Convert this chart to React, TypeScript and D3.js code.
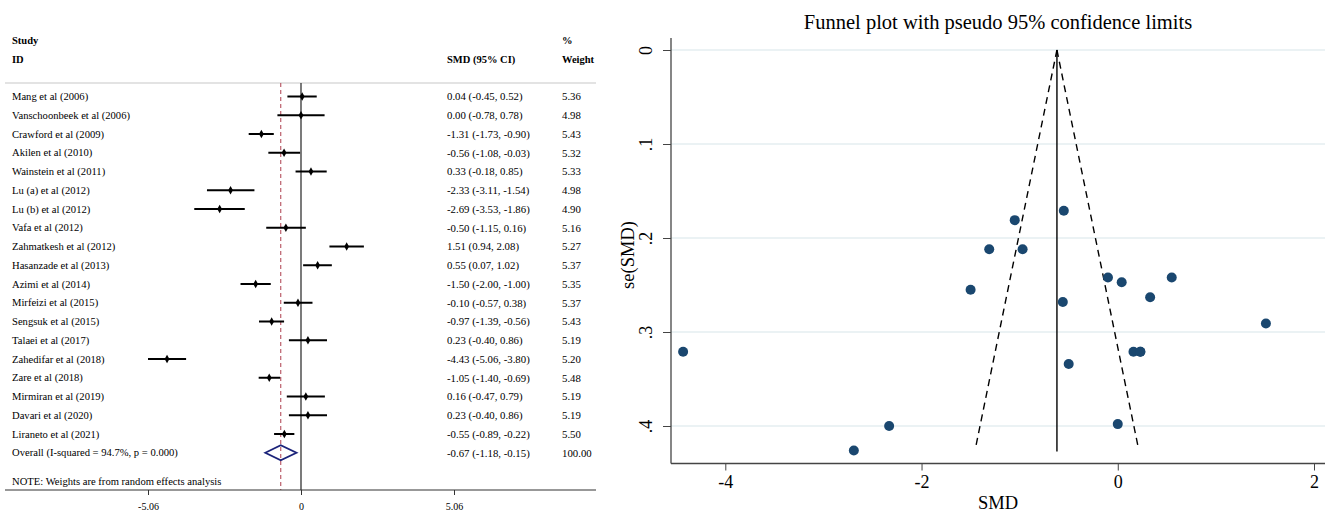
import React, { useEffect, useRef } from 'react';
import * as d3 from 'd3';

// forest plot rows
const studies = [
  'Mang et al (2006)', 'Vanschoonbeek et al (2006)', 'Crawford et al (2009)', 'Akilen et al (2010)',
  'Wainstein et al (2011)', 'Lu (a) et al (2012)', 'Lu (b) et al (2012)', 'Vafa et al (2012)',
  'Zahmatkesh et al (2012)', 'Hasanzade et al (2013)', 'Azimi et al (2014)', 'Mirfeizi et al  (2015)',
  'Sengsuk et al (2015)', 'Talaei et al (2017)', 'Zahedifar et al (2018)', 'Zare et al (2018)',
  'Mirmiran et al (2019)', 'Davari et al (2020)', 'Liraneto et al (2021)',
];
const smd = [0.04, 0.0, -1.31, -0.56, 0.33, -2.33, -2.69, -0.5, 1.51, 0.55, -1.5, -0.1, -0.97, 0.23, -4.43, -1.05, 0.16, 0.23, -0.55];
const ciLow = [-0.45, -0.78, -1.73, -1.08, -0.18, -3.11, -3.53, -1.15, 0.94, 0.07, -2.0, -0.57, -1.39, -0.4, -5.06, -1.4, -0.47, -0.4, -0.89];
const ciHigh = [0.52, 0.78, -0.9, -0.03, 0.85, -1.54, -1.86, 0.16, 2.08, 1.02, -1.0, 0.38, -0.56, 0.86, -3.8, -0.69, 0.79, 0.86, -0.22];
const weights = ['5.36', '4.98', '5.43', '5.32', '5.33', '4.98', '4.90', '5.16', '5.27', '5.37', '5.35', '5.37', '5.43', '5.19', '5.20', '5.48', '5.19', '5.19', '5.50'];

const overallLabel = 'Overall  (I-squared = 94.7%, p = 0.000)';
const overallValues = [-0.67, -1.18, -0.15]; // estimate, low, high
const overallWeight = '100.00';
const forestTicks = [-5.06, 0, 5.06];

// funnel plot: standard errors (x = smd)
const funnelSe = [0.247, 0.398, 0.212, 0.268, 0.263, 0.4, 0.426, 0.334, 0.291, 0.242, 0.255, 0.242, 0.212, 0.321, 0.321, 0.181, 0.321, 0.321, 0.171];
const pooledFixed = -0.62;
const seLimit = 0.42;
const seLine = 0.427;
const funnelXTicks = [-4, -2, 0, 2];
const funnelYTicks = [0, 0.1, 0.2, 0.3, 0.4];

const serif = '"Liberation Serif", "Times New Roman", serif';
const navy = '#1a476f';
const hyphen = (s: string) => s.replace(/\u2212/g, '-');
const f2 = (v: number) => hyphen(d3.format('.2f')(v));

export default function App() {
  const svgRef = useRef<SVGSVGElement>(null);

  useEffect(() => {
    const svg = d3.select(svgRef.current);
    svg.selectAll('*').remove();
    drawForest(svg);
    drawFunnel(svg);
  }, []);

  return (
    <svg ref={svgRef} width={1325} height={512}
      style={{ position: 'absolute', left: 0, top: 0, background: '#fff' }} />
  );
}

function drawForest(svg: any) {
  const g = svg.append('g').style('font-family', serif);
  const x = d3.scaleLinear().domain([-5.06, 5.06]).range([148, 454]);
  const rowY = d3.scaleLinear().domain([0, 1]).range([96.5, 115.25]);
  const fs = 10.6, fsCi = 10.8;
  const textX = 12, ciX = 447, wX = 562;
  const top = 83, axisY = 490;

  // headers
  const hdr = [
    { t: 'Study', x: textX, y: 44 },
    { t: 'ID', x: textX, y: 63 },
    { t: 'SMD (95% CI)', x: ciX, y: 63 },
    { t: '%', x: wX, y: 44 },
    { t: 'Weight', x: wX, y: 63 },
  ];
  g.selectAll('.hdr').data(hdr).enter().append('text')
    .attr('x', (d: any) => d.x).attr('y', (d: any) => d.y)
    .attr('font-size', 10.5).attr('font-weight', 'bold').text((d: any) => d.t);

  g.append('line').attr('x1', 5).attr('x2', 596).attr('y1', top).attr('y2', top)
    .attr('stroke', '#c8c8c8').attr('stroke-width', 1.2);

  // null line and pooled estimate line
  g.append('line').attr('x1', x(0)).attr('x2', x(0)).attr('y1', top).attr('y2', axisY)
    .attr('stroke', '#222').attr('stroke-width', 1.2);
  g.append('line').attr('x1', x(overallValues[0])).attr('x2', x(overallValues[0]))
    .attr('y1', top).attr('y2', axisY)
    .attr('stroke', '#b5505e').attr('stroke-width', 1.1).attr('stroke-dasharray', '4,3');

  const rows = studies.map((s, i) => ({ s, i, est: smd[i], lo: ciLow[i], hi: ciHigh[i], w: weights[i] }));

  g.selectAll('.ci').data(rows).enter().append('line')
    .attr('x1', (d: any) => x(d.lo)).attr('x2', (d: any) => x(d.hi))
    .attr('y1', (d: any) => rowY(d.i)).attr('y2', (d: any) => rowY(d.i))
    .attr('stroke', '#000').attr('stroke-width', 2);
  g.selectAll('.pt').data(rows).enter().append('path')
    .attr('d', d3.symbol(d3.symbolDiamond, 20))
    .attr('transform', (d: any) => `translate(${x(d.est)},${rowY(d.i)})`)
    .attr('fill', '#000');

  g.selectAll('.lab').data(rows).enter().append('text')
    .attr('x', textX).attr('y', (d: any) => rowY(d.i)).attr('dy', '0.35em')
    .attr('font-size', fs).text((d: any) => d.s);
  g.selectAll('.citxt').data(rows).enter().append('text')
    .attr('x', ciX).attr('y', (d: any) => rowY(d.i)).attr('dy', '0.35em')
    .attr('font-size', fsCi)
    .text((d: any) => `${f2(d.est)} (${f2(d.lo)}, ${f2(d.hi)})`);
  g.selectAll('.wtxt').data(rows).enter().append('text')
    .attr('x', wX).attr('y', (d: any) => rowY(d.i)).attr('dy', '0.35em')
    .attr('font-size', fsCi).text((d: any) => d.w);

  // overall
  const oy = rowY(studies.length);
  const [oe, ol, oh] = overallValues;
  g.append('path')
    .attr('d', `M${x(ol)},${oy}L${x(oe)},${oy - 7.5}L${x(oh)},${oy}L${x(oe)},${oy + 7.5}Z`)
    .attr('fill', 'none').attr('stroke', '#1b237a').attr('stroke-width', 1.8);
  g.append('text').attr('x', textX).attr('y', oy).attr('dy', '0.35em').attr('font-size', fs).text(overallLabel);
  g.append('text').attr('x', ciX).attr('y', oy).attr('dy', '0.35em').attr('font-size', fsCi)
    .text(`${f2(oe)} (${f2(ol)}, ${f2(oh)})`);
  g.append('text').attr('x', wX).attr('y', oy).attr('dy', '0.35em').attr('font-size', fsCi).text(overallWeight);

  g.append('text').attr('x', textX).attr('y', 481).attr('dy', '0.35em').attr('font-size', fs)
    .text('NOTE: Weights are from random effects analysis');

  // x axis
  g.append('line').attr('x1', 5).attr('x2', 596).attr('y1', axisY).attr('y2', axisY)
    .attr('stroke', '#333').attr('stroke-width', 1.2);
  const ax = g.append('g').attr('transform', `translate(0,${axisY})`)
    .call(d3.axisBottom(x).tickValues(forestTicks).tickSize(5).tickPadding(8)
      .tickFormat((d: any) => (d === 0 ? '0' : f2(d))));
  ax.select('.domain').remove();
  ax.selectAll('line').attr('stroke', '#333');
  ax.selectAll('text').attr('font-family', serif).attr('font-size', 10).attr('fill', '#000');
}

function drawFunnel(svg: any) {
  const g = svg.append('g').style('font-family', serif);
  const x = d3.scaleLinear().domain([-4, 2]).range([725.3, 1314]);
  const y = d3.scaleLinear().domain([0, 0.4]).range([50, 426]);
  const left = 671, right = 1325, bottom = 463.5;

  g.append('text').attr('x', (left + right) / 2).attr('y', 29).attr('text-anchor', 'middle')
    .attr('font-size', 20.5).text('Funnel plot with pseudo 95% confidence limits');

  // grid
  g.selectAll('.grid').data(funnelYTicks).enter().append('line')
    .attr('x1', left).attr('x2', right).attr('y1', (d: number) => y(d)).attr('y2', (d: number) => y(d))
    .attr('stroke', '#e4eef1').attr('stroke-width', 1.3);

  // axes
  const yAxis = g.append('g').attr('transform', `translate(${left},0)`)
    .call(d3.axisLeft(y).tickValues(funnelYTicks).tickSize(8).tickPadding(4)
      .tickFormat((d: any) => (d === 0 ? '0' : d3.format('.1f')(d).replace(/^0/, ''))));
  yAxis.select('.domain').remove();
  yAxis.selectAll('line').attr('stroke', '#444');
  yAxis.selectAll('text')
    .attr('font-family', serif).attr('font-size', 18).attr('fill', '#000')
    .attr('text-anchor', 'middle').attr('x', null).attr('dy', null).attr('y', 0)
    .attr('transform', 'translate(-19,0) rotate(-90)');
  g.append('line').attr('x1', left).attr('x2', left).attr('y1', 38).attr('y2', bottom)
    .attr('stroke', '#444').attr('stroke-width', 1.3);

  const xAxis = g.append('g').attr('transform', `translate(0,${bottom})`)
    .call(d3.axisBottom(x).tickValues(funnelXTicks).tickSize(7).tickPadding(5)
      .tickFormat((d: any) => hyphen(d3.format('d')(d))));
  xAxis.select('.domain').remove();
  xAxis.selectAll('line').attr('stroke', '#444');
  xAxis.selectAll('text').attr('font-family', serif).attr('font-size', 18).attr('fill', '#000');
  g.append('line').attr('x1', left).attr('x2', right).attr('y1', bottom).attr('y2', bottom)
    .attr('stroke', '#444').attr('stroke-width', 1.3);

  g.append('text').attr('x', (left + right) / 2).attr('y', 509).attr('text-anchor', 'middle')
    .attr('font-size', 18.5).text('SMD');
  g.append('text').attr('transform', `translate(634,255) rotate(-90)`).attr('text-anchor', 'middle')
    .attr('font-size', 18.5).text('se(SMD)');

  // pseudo confidence limits
  const apex = [x(pooledFixed), y(0)];
  [-1, 1].forEach(s => {
    g.append('line').attr('x1', apex[0]).attr('y1', apex[1])
      .attr('x2', x(pooledFixed + s * 1.96 * seLimit)).attr('y2', y(seLimit))
      .attr('stroke', '#000').attr('stroke-width', 1.4).attr('stroke-dasharray', '7,5');
  });
  g.append('line').attr('x1', x(pooledFixed)).attr('x2', x(pooledFixed))
    .attr('y1', y(0)).attr('y2', y(seLine)).attr('stroke', '#000').attr('stroke-width', 1.4);

  g.selectAll('.dot').data(smd.map((v, i) => ({ v, se: funnelSe[i] }))).enter().append('circle')
    .attr('cx', (d: any) => x(d.v)).attr('cy', (d: any) => y(d.se)).attr('r', 5)
    .attr('fill', navy);
}
